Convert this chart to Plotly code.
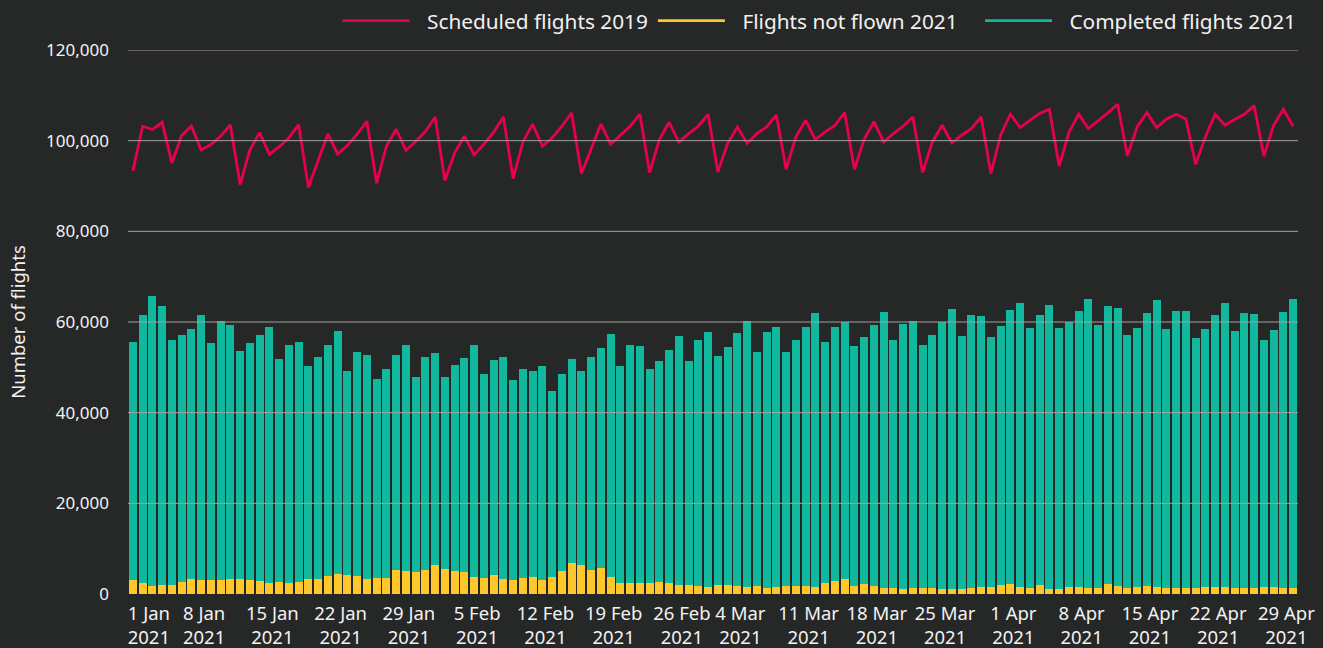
import plotly.graph_objects as go
import pandas as pd

start_date = "2021-01-01"
n_days = 120
dates = pd.date_range(start_date, periods=n_days, freq="D")

scheduled_2019 = [
    93330, 103180, 102450, 104060, 95090, 101120, 103250, 97960, 99140, 100980,
    103470, 90320, 97960, 101780, 97010, 98620, 100610, 103550, 89730, 95680,
    101490, 97080, 98920, 101420, 104280, 90610, 98770, 102520, 97890, 99800,
    102010, 105240, 91200, 97300, 100980, 96860, 99210, 101860, 105240, 91640,
    99720, 103620, 98770, 100610, 103180, 106120, 92740, 98180, 103690, 99210,
    101200, 103180, 105830, 92960, 100240, 104060, 99650, 101560, 103180, 105830,
    93110, 99360, 103030, 99360, 101560, 103030, 105680, 93700, 100830, 104500,
    100240, 101930, 103330, 106270, 93700, 100240, 104210, 99720, 101560, 103180,
    105240, 92960, 99720, 103400, 99510, 101200, 102670, 105240, 92740, 101200,
    105830, 102890, 104500, 105980, 106930, 94360, 101780, 105830, 102670, 104360,
    106120, 108030, 96640, 103030, 106190, 102890, 104720, 105830, 104800, 94800,
    100830, 105830, 103400, 104650, 105830, 107740, 96570, 103400, 106930, 103180,
]

not_flown_2021 = [
    3090, 2430, 1760, 1980, 1980, 2650, 3310, 3090, 3090, 3090,
    3310, 3310, 3090, 2870, 2430, 2650, 2430, 2650, 3310, 3310,
    3970, 4410, 4190, 3970, 3310, 3530, 3530, 5290, 5070, 4850,
    5290, 6390, 5510, 5070, 4850, 3750, 3530, 4190, 3310, 3090,
    3530, 3750, 3090, 3750, 5070, 6830, 6390, 5290, 5730, 3750,
    2430, 2430, 2430, 2430, 2650, 2430, 1980, 1980, 1760, 1540,
    1980, 1980, 1760, 1540, 1760, 1320, 1540, 1760, 1760, 1760,
    1540, 2430, 2870, 3310, 1760, 2200, 1760, 1320, 1320, 1100,
    1320, 1320, 1320, 1100, 1100, 1100, 1320, 1540, 1540, 1980,
    2200, 1540, 1320, 1980, 1100, 1100, 1540, 1540, 1320, 1320,
    2200, 1760, 1320, 1540, 1760, 1540, 1320, 1320, 1320, 1320,
    1540, 1540, 1540, 1320, 1320, 1320, 1540, 1540, 1320, 1320,
]

completed_2021 = [
    52530, 59120, 63960, 61540, 54080, 54510, 55170, 58460, 52310, 57140,
    56040, 50340, 52310, 54290, 56480, 49240, 52530, 52970, 47040, 49020,
    50990, 53630, 45070, 49460, 49460, 43970, 46160, 47480, 49890, 43090,
    47040, 46820, 42430, 45500, 47260, 51210, 45070, 47480, 49020, 44190,
    46160, 45510, 47260, 41120, 43530, 45060, 42870, 47040, 48570, 53630,
    47920, 52530, 52310, 47260, 48800, 51440, 54960, 49470, 54300, 56280,
    50570, 52540, 55840, 58690, 51670, 56500, 57370, 51670, 54300, 57150,
    60450, 53190, 56040, 56700, 52980, 54520, 57590, 60890, 54740, 58470,
    58910, 53640, 55840, 58910, 61770, 55840, 60230, 59790, 55180, 57150,
    60450, 62640, 57370, 59570, 62640, 57590, 58470, 60890, 63740, 58030,
    61320, 61320, 55840, 57150, 60230, 63300, 57160, 61110, 61110, 55180,
    56940, 60010, 62640, 56720, 60670, 60450, 54520, 56720, 60890, 63740,
]

# tick positions (the first label is nudged inside the plot, as in the original)
tick_positions = [
    "2021-01-02 08:00", "2021-01-08", "2021-01-15", "2021-01-22", "2021-01-29",
    "2021-02-05", "2021-02-12", "2021-02-19", "2021-02-26", "2021-03-04",
    "2021-03-11", "2021-03-18", "2021-03-25", "2021-04-01", "2021-04-08",
    "2021-04-15", "2021-04-22", "2021-04-29",
]
tick_days = [
    "1 Jan", "8 Jan", "15 Jan", "22 Jan", "29 Jan", "5 Feb", "12 Feb", "19 Feb",
    "26 Feb", "4 Mar", "11 Mar", "18 Mar", "25 Mar", "1 Apr", "8 Apr", "15 Apr",
    "22 Apr", "29 Apr",
]
tick_year = "2021"
y_ticks = [0, 20000, 40000, 60000, 80000, 100000, 120000]

BG = "#262727"
RED = "#e8004c"
YELLOW = "#ffc72c"
TEAL = "#12b89e"
TEXT = "#f2f2f2"
GRID = "#a0a0a0"
FONT = "Noto Sans"

tick_text = [f"{d}<br>{tick_year}" for d in tick_days]

LEG_GAP = "\u2002\u200a"
LEG_TAIL = "\u2002\u2009\u2009"

fig = go.Figure()
fig.add_trace(go.Bar(x=dates, y=not_flown_2021, name="Flights not flown 2021",
                     marker=dict(color=YELLOW, line=dict(width=0)), showlegend=False))
fig.add_trace(go.Bar(x=dates, y=completed_2021, name="Completed flights 2021",
                     marker=dict(color=TEAL, line=dict(width=0)), showlegend=False))
fig.add_trace(go.Scatter(x=dates, y=scheduled_2019, name=LEG_GAP + "Scheduled flights 2019",
                         mode="lines", line=dict(color=RED, width=2.8)))
# legend entries drawn as lines
fig.add_trace(go.Scatter(x=[None], y=[None], mode="lines",
                         name=LEG_GAP + "Flights not flown 2021" + LEG_TAIL,
                         line=dict(color=YELLOW, width=2.8)))
fig.add_trace(go.Scatter(x=[None], y=[None], mode="lines",
                         name=LEG_GAP + "Completed flights 2021",
                         line=dict(color=TEAL, width=2.8)))

shapes = [dict(type="line", xref="paper", x0=0, x1=1, yref="y", y0=v, y1=v,
               line=dict(color=GRID, width=1), layer="above")
          for v in y_ticks[1:]]

fig.update_layout(
    width=1323, height=648,
    paper_bgcolor=BG, plot_bgcolor=BG,
    margin=dict(l=128, r=25, t=50, b=54, autoexpand=False),
    barmode="stack", bargap=0.18,
    font=dict(family=FONT, color=TEXT, size=17),
    showlegend=True,
    legend=dict(orientation="h", traceorder="normal", xanchor="right", x=1.003,
                yanchor="middle", y=1.053,
                font=dict(size=20.8, color=TEXT), itemwidth=67, bgcolor="rgba(0,0,0,0)"),
    shapes=shapes,
    xaxis=dict(
        type="date",
        range=[pd.Timestamp(start_date) - pd.Timedelta(hours=12),
               dates[-1] + pd.Timedelta(hours=12)],
        tickvals=tick_positions, ticktext=tick_text,
        showgrid=False, zeroline=False, showline=False, ticks="",
        ticklabelstandoff=6, ticklabelshift=3,
        tickfont=dict(size=18.5, color=TEXT),
    ),
    yaxis=dict(
        range=[0, 120000], tickvals=y_ticks, tickformat=",",
        showgrid=False, zeroline=False, showline=False, ticks="",
        ticklabelstandoff=18,
        tickfont=dict(size=17, color=TEXT),
        title=dict(text="Number of flights\u2002\u2002",
                   font=dict(size=18.5, color=TEXT), standoff=15),
    ),
)

fig.write_html("out.html", config={"displayModeBar": False},
               post_script="document.body.style.margin='0';")
